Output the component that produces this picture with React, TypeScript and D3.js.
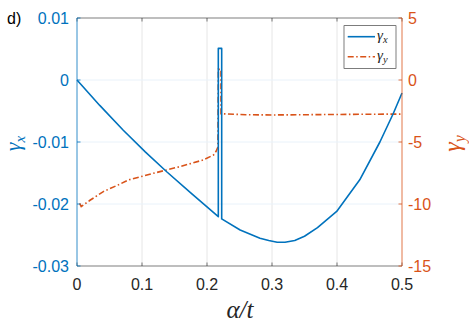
import React from "react";
import * as d3 from "d3";

// ---- data ----
const xTicks = [0, 0.1, 0.2, 0.3, 0.4, 0.5];
const xTickLabels = ["0", "0.1", "0.2", "0.3", "0.4", "0.5"];
const leftTicks = [0.01, 0, -0.01, -0.02, -0.03];
const leftTickLabels = ["0.01", "0", "-0.01", "-0.02", "-0.03"];
const rightTicks = [5, 0, -5, -10, -15];
const rightTickLabels = ["5", "0", "-5", "-10", "-15"];

const alphaX = [
  0, 0.035, 0.0712, 0.105, 0.138, 0.175, 0.2174, 0.2174, 0.2226, 0.2226,
  0.251, 0.2815, 0.295, 0.308, 0.32, 0.335, 0.35, 0.37, 0.3995, 0.435,
  0.466, 0.4866, 0.5,
];
const gammaX = [
  0, -0.0041, -0.0081, -0.0116, -0.0148, -0.0182, -0.02205, 0.0051, 0.0051,
  -0.0224, -0.0242, -0.02553, -0.0259, -0.02618, -0.02618, -0.0259, -0.0252,
  -0.0238, -0.0212, -0.0161, -0.01, -0.0054, -0.0021,
];

const alphaY = [
  0.004, 0.0065, 0.02, 0.0405, 0.066, 0.079, 0.117, 0.158, 0.194, 0.21,
  0.214, 0.2168, 0.2175, 0.2215, 0.2215, 0.26, 0.3, 0.35, 0.4, 0.45, 0.5,
];
const gammaY = [
  -9.95, -10.2, -9.7, -9.0, -8.4, -8.06, -7.53, -6.99, -6.45, -6.05, -5.75,
  -5.4, 0.86, 0.86, -2.72, -2.8, -2.82, -2.8, -2.78, -2.76, -2.75,
];

const BLUE = "#0072BD";
const ORANGE = "#D95319";
const DARK = "#262626";

export default function App() {
  const L = 77, R = 402, T = 18, B = 266;
  const x = d3.scaleLinear().domain([0, 0.5]).range([L, R]);
  const yL = d3.scaleLinear().domain([-0.03, 0.01]).range([B, T]);
  const yR = d3.scaleLinear().domain([-15, 5]).range([B, T]);

  const lineX = d3
    .line<number>()
    .x((_, i) => x(alphaX[i]))
    .y((d) => yL(d));
  const lineY = d3
    .line<number>()
    .x((_, i) => x(alphaY[i]))
    .y((d) => yR(d));

  const tick = 3.5;
  const sans = "'Liberation Sans', Arial, Helvetica, sans-serif";
  const serif = "'Liberation Serif', 'Times New Roman', serif";
  const dashDot = "6,2.5,1.5,2.5";

  return (
    <svg
      width={469}
      height={330}
      style={{ position: "absolute", left: 0, top: 0, background: "#fff" }}
    >
      <rect x={0} y={0} width={469} height={330} fill="#fff" />
      {/* grid */}
      {xTicks.slice(1, -1).map((t) => (
        <line key={"gx" + t} x1={x(t)} x2={x(t)} y1={T} y2={B} stroke="#e6e6e6" strokeWidth={1} />
      ))}
      {leftTicks.slice(1, -1).map((t) => (
        <line key={"gy" + t} x1={L} x2={R} y1={yL(t)} y2={yL(t)} stroke="#e9f2fa" strokeWidth={1} />
      ))}

      {/* series */}
      <path d={lineY(gammaY) || ""} fill="none" stroke={ORANGE} strokeWidth={1.6} strokeDasharray={dashDot} />
      <path d={lineX(gammaX) || ""} fill="none" stroke={BLUE} strokeWidth={1.6} strokeLinejoin="round" />

      {/* box top/bottom */}
      <line x1={L} x2={R} y1={T} y2={T} stroke={DARK} strokeWidth={0.6} />
      <line x1={L} x2={R} y1={B} y2={B} stroke={DARK} strokeWidth={0.6} />
      {xTicks.map((t) => (
        <g key={"xt" + t}>
          <line x1={x(t)} x2={x(t)} y1={B} y2={B - tick} stroke={DARK} strokeWidth={0.6} />
          <line x1={x(t)} x2={x(t)} y1={T} y2={T + tick} stroke={DARK} strokeWidth={0.6} />
        </g>
      ))}
      {xTicks.map((t, i) => (
        <text key={"xl" + t} x={x(t)} y={290} textAnchor="middle" fontFamily={sans} fontSize={16} fill={DARK}>
          {xTickLabels[i]}
        </text>
      ))}

      {/* left axis */}
      <line x1={L} x2={L} y1={T} y2={B} stroke={BLUE} strokeWidth={0.8} />
      {leftTicks.map((t, i) => (
        <g key={"lt" + t}>
          <line x1={L} x2={L + tick} y1={yL(t)} y2={yL(t)} stroke={BLUE} strokeWidth={0.8} />
          <text x={69} y={yL(t)} dy="0.36em" textAnchor="end" fontFamily={sans} fontSize={16} fill={BLUE}>
            {leftTickLabels[i]}
          </text>
        </g>
      ))}

      {/* right axis */}
      <line x1={R} x2={R} y1={T} y2={B} stroke={ORANGE} strokeWidth={0.8} />
      {rightTicks.map((t, i) => (
        <g key={"rt" + t}>
          <line x1={R} x2={R - tick} y1={yR(t)} y2={yR(t)} stroke={ORANGE} strokeWidth={0.8} />
          <text x={408} y={yR(t)} dy="0.36em" textAnchor="start" fontFamily={sans} fontSize={16} fill={ORANGE}>
            {rightTickLabels[i]}
          </text>
        </g>
      ))}

      {/* axis labels */}
      <text transform="translate(20,143.5) rotate(-90)" textAnchor="middle" fontFamily={serif} fontStyle="italic" fontSize={22} fill={BLUE}>
        γ<tspan fontSize={15} dy={5}>x</tspan>
      </text>
      <text transform="translate(459.5,143.5) rotate(-90)" textAnchor="middle" fontFamily={serif} fontStyle="italic" fontSize={24} fill={ORANGE}>
        γ<tspan fontSize={16} dy={5}>y</tspan>
      </text>
      <text x={240} y={318} textAnchor="middle" fontFamily={serif} fontStyle="italic" fontSize={25} fill={DARK}>
        α/t
      </text>

      <text x={7} y={24} fontFamily={sans} fontSize={16} fill="#000">d)</text>

      {/* legend */}
      <rect x={344} y={25.7} width={52} height={42.6} fill="#fff" stroke={DARK} strokeWidth={0.6} />
      <line x1={347.7} x2={375} y1={36.7} y2={36.7} stroke={BLUE} strokeWidth={1.6} />
      <line x1={347.7} x2={375} y1={56.7} y2={56.7} stroke={ORANGE} strokeWidth={1.6} strokeDasharray={dashDot} />
      <text x={377} y={40} fontFamily={serif} fontStyle="italic" fontSize={15} fill={DARK}>
        γ<tspan fontSize={10.5} dy={3}>x</tspan>
      </text>
      <text x={377} y={60} fontFamily={serif} fontStyle="italic" fontSize={15} fill={DARK}>
        γ<tspan fontSize={10.5} dy={3}>y</tspan>
      </text>
    </svg>
  );
}
